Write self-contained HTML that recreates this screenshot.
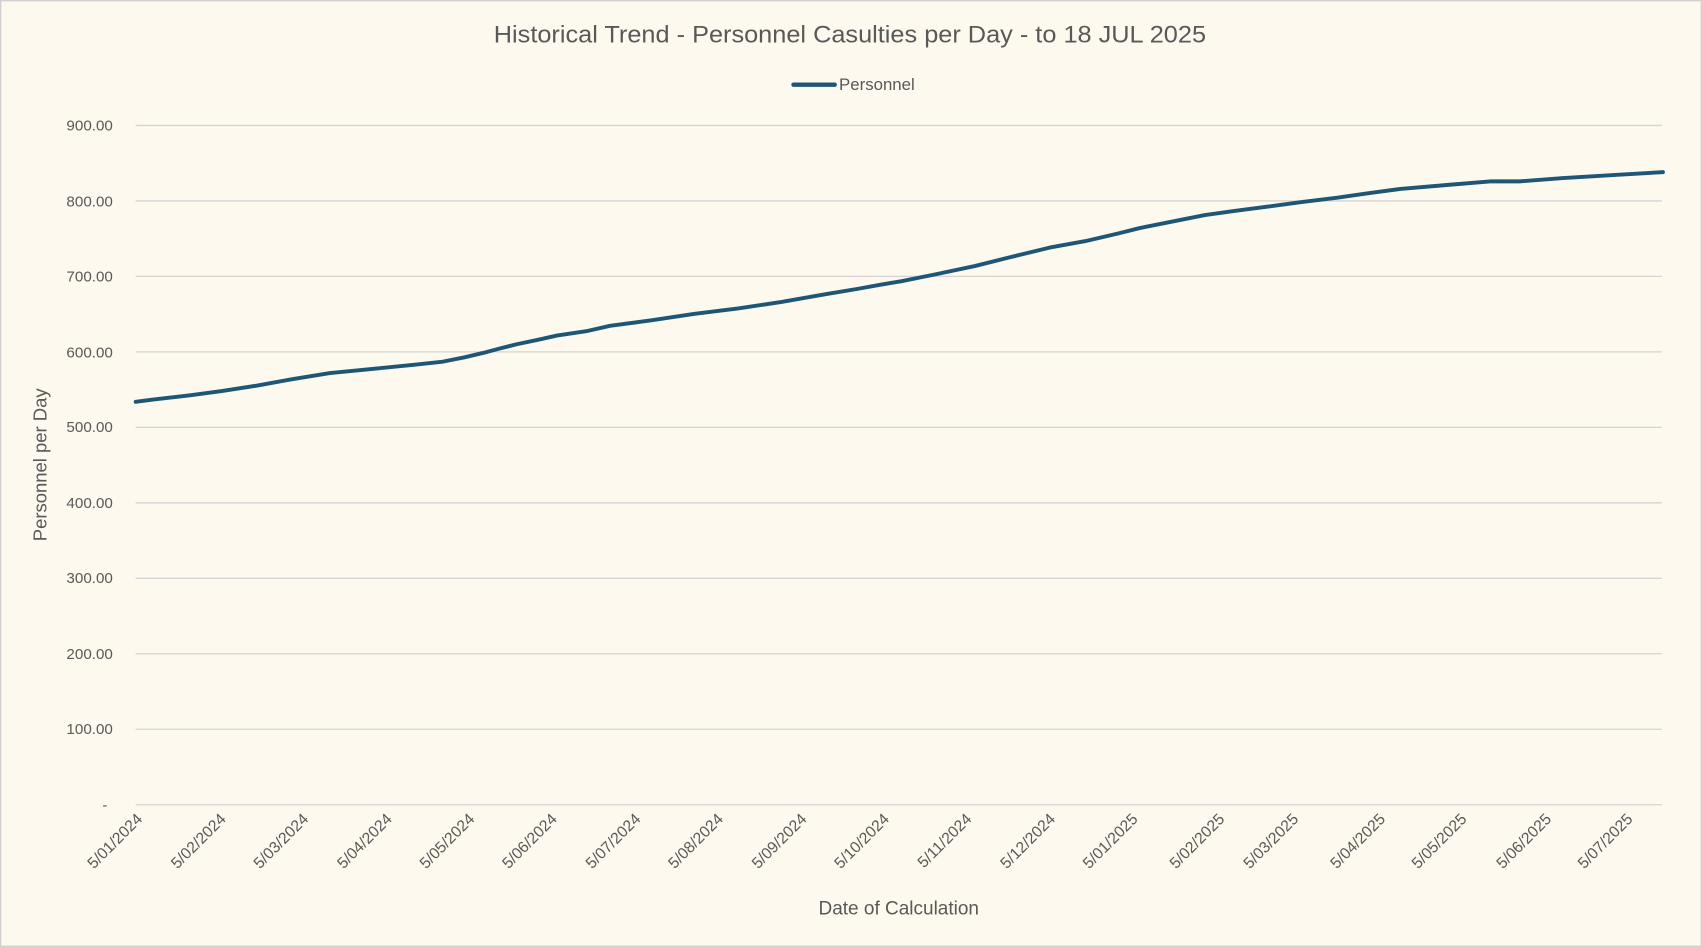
<!DOCTYPE html>
<html><head><meta charset="utf-8"><style>
html,body{margin:0;padding:0;background:#fdf9ee;}
svg{display:block;}
text{font-family:"Liberation Sans",sans-serif;fill:#595959;}
</style></head><body>
<svg width="1702" height="947" viewBox="0 0 1568 872" preserveAspectRatio="none" xmlns="http://www.w3.org/2000/svg">
<rect x="0.5" y="0.5" width="1567" height="871" fill="#fdf9ee" stroke="#d0d0d0" stroke-width="1.5"/>
<text x="783" y="39" text-anchor="middle" font-size="22" transform="translate(783 0) scale(1.06 1) translate(-783 0)">Historical Trend - Personnel Casulties per Day - to 18 JUL 2025</text>
<line x1="731" y1="78" x2="769" y2="78" stroke="#1f5676" stroke-width="4" stroke-linecap="round"/>
<text x="773" y="83" font-size="15.5">Personnel</text>
<g stroke="#d4d4d4" stroke-width="1.2">
<line x1="125" x2="1531" y1="115.5" y2="115.5"/>
<line x1="125" x2="1531" y1="185" y2="185"/>
<line x1="125" x2="1531" y1="254.5" y2="254.5"/>
<line x1="125" x2="1531" y1="324" y2="324"/>
<line x1="125" x2="1531" y1="393.5" y2="393.5"/>
<line x1="125" x2="1531" y1="463" y2="463"/>
<line x1="125" x2="1531" y1="532.5" y2="532.5"/>
<line x1="125" x2="1531" y1="602" y2="602"/>
<line x1="125" x2="1531" y1="671.5" y2="671.5"/>
<line x1="125" x2="1531" y1="741" y2="741"/>
</g>
<g font-size="14" text-anchor="end">
<text x="104" y="120">900.00</text>
<text x="104" y="190">800.00</text>
<text x="104" y="259">700.00</text>
<text x="104" y="329">600.00</text>
<text x="104" y="398">500.00</text>
<text x="104" y="468">400.00</text>
<text x="104" y="537">300.00</text>
<text x="104" y="607">200.00</text>
<text x="104" y="676">100.00</text>
<text x="99" y="746">-</text>
</g>
<g font-size="14.5" text-anchor="end">
<text transform="translate(132 755) rotate(-45)">5/01/2024</text>
<text transform="translate(209 755) rotate(-45)">5/02/2024</text>
<text transform="translate(285 755) rotate(-45)">5/03/2024</text>
<text transform="translate(362 755) rotate(-45)">5/04/2024</text>
<text transform="translate(438 755) rotate(-45)">5/05/2024</text>
<text transform="translate(514 755) rotate(-45)">5/06/2024</text>
<text transform="translate(591 755) rotate(-45)">5/07/2024</text>
<text transform="translate(667 755) rotate(-45)">5/08/2024</text>
<text transform="translate(744 755) rotate(-45)">5/09/2024</text>
<text transform="translate(820 755) rotate(-45)">5/10/2024</text>
<text transform="translate(896 755) rotate(-45)">5/11/2024</text>
<text transform="translate(973 755) rotate(-45)">5/12/2024</text>
<text transform="translate(1049 755) rotate(-45)">5/01/2025</text>
<text transform="translate(1129 755) rotate(-45)">5/02/2025</text>
<text transform="translate(1197 755) rotate(-45)">5/03/2025</text>
<text transform="translate(1277 755) rotate(-45)">5/04/2025</text>
<text transform="translate(1352 755) rotate(-45)">5/05/2025</text>
<text transform="translate(1430 755) rotate(-45)">5/06/2025</text>
<text transform="translate(1505 755) rotate(-45)">5/07/2025</text>
</g>
<text x="828" y="842" text-anchor="middle" font-size="17.5">Date of Calculation</text>
<text transform="translate(43 428) rotate(-90)" text-anchor="middle" font-size="17">Personnel per Day</text>
<polyline fill="none" stroke="#1f5676" stroke-width="3.6" stroke-linejoin="round" stroke-linecap="round"
points="125,370 140,368 158,366 175,364 205,360 237,355 270,349 304,343.5 330,341 350,339 380,336 408,333 428,329 445,325 460,321 476,317 495,313 513,309 540,305 562,300 600,295 640,289 680,284 720,278 760,271 790,266 812,262 830,259 860,253 898,245 930,237 967,228 1000,222 1030,215 1050,210 1080,204 1110,198 1139,194 1170,190 1200,186 1232,182 1260,178 1290,174 1337,170 1374,167 1400,167 1440,164 1490,161 1532,158.5"/>
</svg>
</body></html>
